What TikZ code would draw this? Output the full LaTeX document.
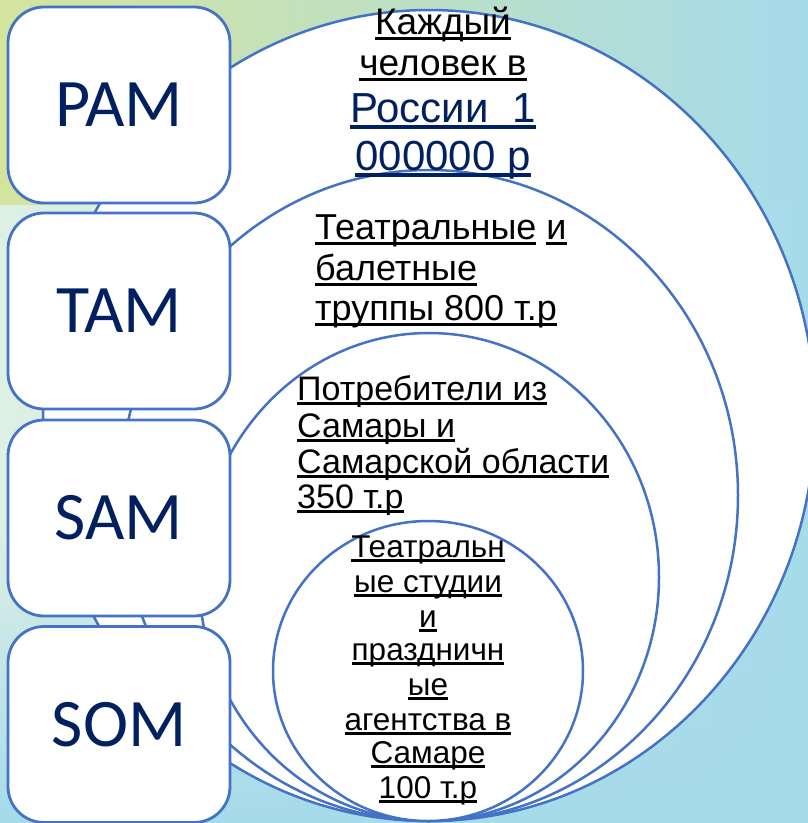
\documentclass[tikz,border=0pt]{standalone}
\usepackage{fontspec}
\setmainfont{Liberation Sans}
\newfontfamily\boxfont{Carlito}
\usetikzlibrary{fadings}
\definecolor{bblue}{RGB}{68,114,196}
\definecolor{navy}{RGB}{0,32,96}
\definecolor{bgblue}{RGB}{166,219,234}
\definecolor{bggreen}{RGB}{212,228,158}
\definecolor{bglight}{RGB}{232,244,242}
\definecolor{bgmint}{RGB}{222,240,228}
\tikzfading[name=myfade, top color=transparent!100, bottom color=transparent!0]
\newcommand\myul[1]{\setbox0=\hbox{#1}\rlap{\rule[-0.16em]{\wd0}{0.09em}}\box0\relax}
\begin{document}
\begin{tikzpicture}[x=1pt,y=-1pt,
  lbox/.style={draw=bblue, line width=2.8pt, fill=white, rounded corners=36pt,
    minimum width=222pt, minimum height=196pt, inner sep=0pt, text=navy,
    font=\boxfont\fontsize{68pt}{68pt}\selectfont},
  ell/.style={draw=bblue, line width=2.5pt, fill=white},
  tc/.style={inner sep=0pt, anchor=base},
  tl/.style={inner sep=0pt, anchor=base west},
  fA/.style={font=\fontsize{37pt}{42pt}\selectfont},
  fB/.style={font=\fontsize{42pt}{48pt}\selectfont, text=navy},
  fC/.style={font=\fontsize{36pt}{40pt}\selectfont},
  fD/.style={font=\fontsize{34pt}{37pt}\selectfont},
  fE/.style={font=\fontsize{31.5pt}{35pt}\selectfont},
]
\useasboundingbox (0,0) rectangle (808,823);
% background
\fill[bgblue] (0,0) rectangle (808,823);
\shade[left color=bggreen, middle color=bglight, right color=bgblue] (0,0) rectangle (808,205);
\shade[left color=bgmint, right color=bgblue] (0,205) rectangle (808,823);
\fill[bgblue, path fading=myfade] (0,520) rectangle (808,823);
% nested ellipses
\draw[ell] (429,415.5) ellipse [x radius=386pt, y radius=405.5pt];
\draw[ell] (429,495.5) ellipse [x radius=309pt, y radius=325.5pt];
\draw[ell] (429,577) ellipse [x radius=230pt, y radius=244pt];
\draw[ell] (428,671) ellipse [x radius=155pt, y radius=150pt];
% label boxes
\node[lbox] (pam) at (119,105) {PAM};
\node[lbox] (tam) at (119,311) {TAM};
\node[lbox] (sam) at (119,518) {SAM};
\node[lbox] (som) at (119,724.5) {SOM};
% texts, outer ellipse
\node[tc, fA] (a1) at (443,34) {\myul{Каждый}};
\node[tc, fA] (a2) at (443,75) {\myul{человек в}};
\node[tc, fB] (a3) at (443,122) {\myul{России\ \ 1}};
\node[tc, fB] (a4) at (443,170) {\myul{000000 р}};
% second ellipse
\node[tl, fC] (b1) at (315,239) {\myul{Театральные} \myul{и}};
\node[tl, fC] (b2) at (315,280) {\myul{балетные}};
\node[tl, fC] (b3) at (315,320) {\myul{труппы 800 т.р}};
% third ellipse
\node[tl, fD] (c1) at (297,400) {\myul{Потребители из}};
\node[tl, fD] (c2) at (297,437) {\myul{Самары и}};
\node[tl, fD] (c3) at (297,473) {\myul{Самарской области}};
\node[tl, fD] (c4) at (297,508) {\myul{350 т.р}};
% inner ellipse
\node[tc, fE] (d1) at (428,557) {\myul{Театральн}};
\node[tc, fE] (d2) at (428,592) {\myul{ые студии}};
\node[tc, fE] (d3) at (428,627) {\myul{и}};
\node[tc, fE] (d4) at (428,660) {\myul{праздничн}};
\node[tc, fE] (d5) at (428,695) {\myul{ые}};
\node[tc, fE] (d6) at (428,730) {\myul{агентства в}};
\node[tc, fE] (d7) at (428,763) {\myul{Самаре}};
\node[tc, fE] (d8) at (428,798) {\myul{100 т.р}};
\end{tikzpicture}
\end{document}
